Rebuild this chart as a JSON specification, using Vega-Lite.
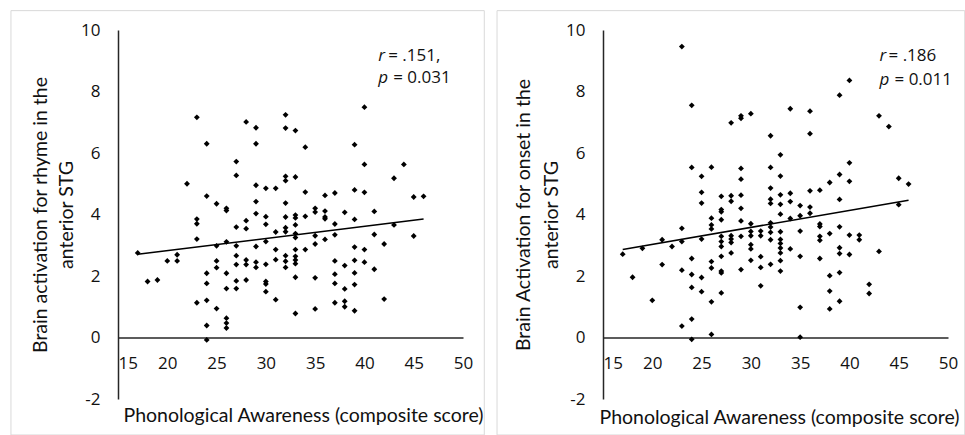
{
  "$schema": "https://vega.github.io/schema/vega-lite/v6.json",
  "padding": {"left": 10, "top": 10, "right": 0, "bottom": 0},
  "background": "white",
  "datasets": {
    "rhyme": [
      {"pa":23,"act":7.16},{"pa":28,"act":7.01},{"pa":29,"act":6.82},{"pa":24,"act":6.30},{"pa":29,"act":6.30},
      {"pa":27,"act":5.72},{"pa":27,"act":5.27},{"pa":22,"act":5.00},{"pa":29,"act":4.95},{"pa":30,"act":4.85},
      {"pa":31,"act":4.85},{"pa":24,"act":4.60},{"pa":25,"act":4.35},{"pa":26,"act":4.20},{"pa":26,"act":4.13},
      {"pa":29,"act":4.42},{"pa":29,"act":4.03},{"pa":23,"act":3.85},{"pa":23,"act":3.70},{"pa":28,"act":3.80},
      {"pa":30,"act":3.93},{"pa":27,"act":3.59},{"pa":28,"act":3.54},{"pa":30,"act":3.68},{"pa":31,"act":3.43},
      {"pa":23,"act":3.20},{"pa":17,"act":2.75},{"pa":25,"act":2.98},{"pa":26,"act":3.11},{"pa":27,"act":2.98},
      {"pa":29,"act":2.96},{"pa":30,"act":3.12},{"pa":31,"act":2.86},{"pa":31,"act":2.53},{"pa":21,"act":2.69},
      {"pa":21,"act":2.49},{"pa":20,"act":2.49},{"pa":25,"act":2.49},{"pa":25,"act":2.27},{"pa":27,"act":2.66},
      {"pa":27,"act":2.37},{"pa":28,"act":2.52},{"pa":28,"act":2.37},{"pa":29,"act":2.45},{"pa":29,"act":2.28},
      {"pa":30,"act":2.38},{"pa":24,"act":2.09},{"pa":26,"act":2.09},{"pa":24,"act":1.76},{"pa":18,"act":1.82},
      {"pa":19,"act":1.87},{"pa":27,"act":1.84},{"pa":27,"act":1.59},{"pa":26,"act":1.59},{"pa":28,"act":1.87},
      {"pa":30,"act":1.82},{"pa":30,"act":1.74},{"pa":30,"act":1.49},{"pa":31,"act":1.23},{"pa":23,"act":1.13},
      {"pa":24,"act":1.21},{"pa":25,"act":0.94},{"pa":26,"act":0.63},{"pa":26,"act":0.47},{"pa":26,"act":0.31},
      {"pa":24,"act":0.39},{"pa":24,"act":-0.08},
      {"pa":32,"act":7.24},{"pa":32,"act":6.81},{"pa":33,"act":6.73},{"pa":34,"act":6.19},{"pa":40,"act":7.49},
      {"pa":39,"act":6.27},{"pa":40,"act":5.63},{"pa":44,"act":5.63},{"pa":43,"act":5.18},{"pa":32,"act":5.24},
      {"pa":32,"act":5.10},{"pa":33,"act":5.22},{"pa":34,"act":4.73},{"pa":36,"act":4.62},{"pa":37,"act":4.70},
      {"pa":39,"act":4.80},{"pa":40,"act":4.72},{"pa":45,"act":4.57},{"pa":46,"act":4.59},{"pa":32,"act":4.37},
      {"pa":35,"act":4.20},{"pa":35,"act":4.08},{"pa":36,"act":4.11},{"pa":36,"act":3.92},{"pa":36,"act":3.86},
      {"pa":38,"act":4.07},{"pa":41,"act":4.10},{"pa":32,"act":3.92},{"pa":33,"act":3.98},{"pa":33,"act":3.89},
      {"pa":34,"act":3.94},{"pa":39,"act":3.84},{"pa":37,"act":3.69},{"pa":33,"act":3.66},{"pa":32,"act":3.57},
      {"pa":32,"act":3.44},{"pa":33,"act":3.38},{"pa":33,"act":3.25},{"pa":35,"act":3.31},{"pa":37,"act":3.34},
      {"pa":36,"act":3.19},{"pa":35,"act":3.04},{"pa":41,"act":3.35},{"pa":43,"act":3.66},{"pa":45,"act":3.30},
      {"pa":42,"act":3.04},{"pa":33,"act":2.86},{"pa":34,"act":2.86},{"pa":39,"act":2.94},{"pa":40,"act":2.86},
      {"pa":32,"act":2.66},{"pa":32,"act":2.48},{"pa":32,"act":2.28},{"pa":33,"act":2.64},{"pa":33,"act":2.52},
      {"pa":33,"act":2.40},{"pa":37,"act":2.49},{"pa":38,"act":2.34},{"pa":39,"act":2.51},{"pa":40,"act":2.45},
      {"pa":41,"act":2.22},{"pa":33,"act":1.96},{"pa":35,"act":1.94},{"pa":37,"act":2.06},{"pa":39,"act":2.10},
      {"pa":37,"act":1.76},{"pa":39,"act":1.72},{"pa":38,"act":1.58},{"pa":42,"act":1.25},{"pa":37,"act":1.13},
      {"pa":38,"act":1.18},{"pa":38,"act":1.00},{"pa":39,"act":0.87},{"pa":35,"act":0.93},{"pa":33,"act":0.78}
    ],
    "onset": [
      {"pa":23,"act":9.46},{"pa":24,"act":7.55},{"pa":28,"act":6.98},{"pa":29,"act":7.21},{"pa":29,"act":7.13},
      {"pa":30,"act":7.28},{"pa":32,"act":6.56},{"pa":24,"act":5.53},{"pa":26,"act":5.54},{"pa":29,"act":5.50},
      {"pa":32,"act":5.53},{"pa":25,"act":5.24},{"pa":29,"act":5.15},{"pa":32,"act":4.86},{"pa":25,"act":4.72},
      {"pa":27,"act":4.59},{"pa":28,"act":4.61},{"pa":28,"act":4.43},{"pa":29,"act":4.63},{"pa":32,"act":4.50},
      {"pa":32,"act":4.36},{"pa":25,"act":4.37},{"pa":27,"act":4.16},{"pa":27,"act":4.09},{"pa":29,"act":4.20},
      {"pa":26,"act":3.88},{"pa":27,"act":3.83},{"pa":26,"act":3.66},{"pa":26,"act":3.53},{"pa":23,"act":3.55},
      {"pa":29,"act":3.79},{"pa":30,"act":3.70},{"pa":32,"act":3.73},{"pa":32,"act":3.59},{"pa":32,"act":3.42},
      {"pa":32,"act":3.18},{"pa":31,"act":3.46},{"pa":31,"act":3.31},{"pa":30,"act":3.45},{"pa":30,"act":3.31},
      {"pa":29,"act":3.29},{"pa":28,"act":3.31},{"pa":28,"act":3.20},{"pa":28,"act":3.09},{"pa":27,"act":3.29},
      {"pa":27,"act":3.12},{"pa":25,"act":3.20},{"pa":23,"act":3.12},{"pa":22,"act":2.96},{"pa":21,"act":3.18},
      {"pa":19,"act":2.90},{"pa":17,"act":2.71},{"pa":30,"act":3.02},{"pa":30,"act":2.88},{"pa":27,"act":2.96},
      {"pa":27,"act":2.64},{"pa":28,"act":2.75},{"pa":31,"act":2.63},{"pa":30,"act":2.51},{"pa":24,"act":2.57},
      {"pa":26,"act":2.47},{"pa":26,"act":2.26},{"pa":21,"act":2.37},{"pa":32,"act":2.38},{"pa":31,"act":2.28},
      {"pa":29,"act":2.21},{"pa":23,"act":2.19},{"pa":27,"act":2.16},{"pa":27,"act":2.10},{"pa":24,"act":2.05},
      {"pa":25,"act":1.95},{"pa":18,"act":1.96},{"pa":31,"act":1.68},{"pa":24,"act":1.63},{"pa":25,"act":1.49},
      {"pa":27,"act":1.45},{"pa":20,"act":1.21},{"pa":26,"act":1.16},{"pa":24,"act":0.60},{"pa":23,"act":0.37},
      {"pa":26,"act":0.10},{"pa":24,"act":-0.06},
      {"pa":33,"act":5.94},{"pa":33,"act":5.25},{"pa":33,"act":4.64},{"pa":33,"act":4.33},{"pa":33,"act":4.01},
      {"pa":33,"act":3.44},{"pa":33,"act":3.19},{"pa":33,"act":3.06},{"pa":33,"act":2.91},{"pa":33,"act":2.75},
      {"pa":33,"act":2.50},{"pa":33,"act":2.16},
      {"pa":34,"act":7.44},{"pa":34,"act":4.69},{"pa":34,"act":4.42},{"pa":34,"act":3.87},{"pa":34,"act":2.88},
      {"pa":35,"act":4.29},{"pa":35,"act":3.96},{"pa":35,"act":3.46},{"pa":35,"act":2.64},{"pa":35,"act":0.98},
      {"pa":35,"act":0.01},
      {"pa":36,"act":7.36},{"pa":36,"act":6.63},{"pa":36,"act":4.77},{"pa":36,"act":4.24},{"pa":36,"act":4.04},
      {"pa":37,"act":4.79},{"pa":37,"act":3.69},{"pa":37,"act":3.61},{"pa":37,"act":3.29},{"pa":37,"act":3.16},
      {"pa":37,"act":2.57},
      {"pa":38,"act":5.04},{"pa":38,"act":3.38},{"pa":38,"act":2.01},{"pa":38,"act":1.51},{"pa":38,"act":0.93},
      {"pa":39,"act":7.88},{"pa":39,"act":5.30},{"pa":39,"act":4.49},{"pa":39,"act":3.60},{"pa":39,"act":2.92},
      {"pa":39,"act":2.73},{"pa":39,"act":2.11},{"pa":39,"act":1.18},
      {"pa":40,"act":8.36},{"pa":40,"act":5.68},{"pa":40,"act":5.08},{"pa":40,"act":3.33},{"pa":40,"act":2.70},
      {"pa":41,"act":3.33},{"pa":41,"act":3.18},{"pa":42,"act":1.73},{"pa":42,"act":1.43},
      {"pa":43,"act":7.21},{"pa":43,"act":2.80},{"pa":44,"act":6.86},
      {"pa":45,"act":5.18},{"pa":45,"act":4.32},{"pa":46,"act":4.99}
    ]
  },
  "config": {
    "view": {"stroke": null},
    "font": "Lato",
    "axis": {
      "grid": false,
      "ticks": false,
      "domainColor": "#262626",
      "domainWidth": 1.5,
      "labelColor": "#111111",
      "titleColor": "#111111",
      "labelFontSize": 17,
      "titleFontSize": 19.5,
      "titleFontWeight": "normal",
      "labelFont": "Open Sans",
      "titleFont": "Lato"
    },
    "text": {"font": "Open Sans", "fontSize": 17, "color": "#111111"}
  },
  "spacing": 140,
  "bounds": "flush",
  "hconcat": [
    {
      "width": 345,
      "height": 369,
      "layer": [
        {
          "data": {"name": "rhyme"},
          "mark": {"type": "point", "shape": "diamond", "filled": true, "size": 34, "color": "#000000", "opacity": 1},
          "encoding": {
            "x": {
              "field": "pa", "type": "quantitative",
              "scale": {"domain": [15, 50], "nice": false, "zero": false},
              "axis": {
                "title": "Phonological Awareness (composite score)",
                "values": [15, 20, 25, 30, 35, 40, 45, 50],
                "offset": -61.5,
                "labelPadding": 18,
                "labelFlush": false,
                "labelAlign": {"condition": {"test": "datum.value == 15", "value": "left"}, "value": "center"},
                "titleX": 185,
                "titleY": 69
              }
            },
            "y": {
              "field": "act", "type": "quantitative",
              "scale": {"domain": [-2, 10], "nice": false, "zero": false},
              "axis": {
                "title": ["Brain activation for rhyme in the", "anterior STG"],
                "values": [-2, 0, 2, 4, 6, 8, 10],
                "labelExpr": "'' + datum.value",
                "labelPadding": 18,
                "titleLineHeight": 26
              }
            }
          }
        },
        {
          "data": {"name": "rhyme"},
          "transform": [{"regression": "act", "on": "pa", "extent": [17, 46]}],
          "mark": {"type": "line", "color": "#000000", "strokeWidth": 1.6},
          "encoding": {
            "x": {"field": "pa", "type": "quantitative"},
            "y": {"field": "act", "type": "quantitative"}
          }
        },
        {
          "data": {"values": [{}]},
          "mark": {"type": "rect", "fill": null, "stroke": "#d9d9d9", "strokeWidth": 1},
          "encoding": {
            "x": {"datum": 4.14, "type": "quantitative"},
            "x2": {"datum": 52.16},
            "y": {"datum": 10.63, "type": "quantitative"},
            "y2": {"datum": -3.17}
          }
        },
        {
          "data": {"values": [{}]},
          "mark": {"type": "text", "align": "left", "baseline": "middle", "fontStyle": "italic"},
          "encoding": {"x": {"datum": 41.4, "type": "quantitative"}, "y": {"datum": 9.17, "type": "quantitative"}, "text": {"value": "r"}}
        },
        {
          "data": {"values": [{}]},
          "mark": {"type": "text", "align": "left", "baseline": "middle", "dx": 10},
          "encoding": {"x": {"datum": 41.4, "type": "quantitative"}, "y": {"datum": 9.17, "type": "quantitative"}, "text": {"value": "= .151,"}}
        },
        {
          "data": {"values": [{}]},
          "mark": {"type": "text", "align": "left", "baseline": "middle", "fontStyle": "italic"},
          "encoding": {"x": {"datum": 41.4, "type": "quantitative"}, "y": {"datum": 8.45, "type": "quantitative"}, "text": {"value": "p"}}
        },
        {
          "data": {"values": [{}]},
          "mark": {"type": "text", "align": "left", "baseline": "middle", "dx": 15},
          "encoding": {"x": {"datum": 41.4, "type": "quantitative"}, "y": {"datum": 8.45, "type": "quantitative"}, "text": {"value": "= 0.031"}}
        }
      ]
    },
    {
      "width": 345,
      "height": 369,
      "layer": [
        {
          "data": {"name": "onset"},
          "mark": {"type": "point", "shape": "diamond", "filled": true, "size": 34, "color": "#000000", "opacity": 1},
          "encoding": {
            "x": {
              "field": "pa", "type": "quantitative",
              "scale": {"domain": [15, 50], "nice": false, "zero": false},
              "axis": {
                "title": "Phonological Awareness (composite score)",
                "values": [15, 20, 25, 30, 35, 40, 45, 50],
                "offset": -61.5,
                "labelPadding": 18,
                "labelFlush": false,
                "labelAlign": {"condition": {"test": "datum.value == 15", "value": "left"}, "value": "center"},
                "titleX": 176,
                "titleY": 71
              }
            },
            "y": {
              "field": "act", "type": "quantitative",
              "scale": {"domain": [-2, 10], "nice": false, "zero": false},
              "axis": {
                "title": ["Brain Activation for onset in the", "anterior STG"],
                "values": [-2, 0, 2, 4, 6, 8, 10],
                "labelExpr": "'' + datum.value",
                "labelPadding": 18,
                "titleLineHeight": 28
              }
            }
          }
        },
        {
          "data": {"name": "onset"},
          "transform": [{"regression": "act", "on": "pa", "extent": [17, 46]}],
          "mark": {"type": "line", "color": "#000000", "strokeWidth": 1.6},
          "encoding": {
            "x": {"field": "pa", "type": "quantitative"},
            "y": {"field": "act", "type": "quantitative"}
          }
        },
        {
          "data": {"values": [{}]},
          "mark": {"type": "rect", "fill": null, "stroke": "#d9d9d9", "strokeWidth": 1},
          "encoding": {
            "x": {"datum": 4.25, "type": "quantitative"},
            "x2": {"datum": 51.7},
            "y": {"datum": 10.63, "type": "quantitative"},
            "y2": {"datum": -3.17}
          }
        },
        {
          "data": {"values": [{}]},
          "mark": {"type": "text", "align": "left", "baseline": "middle", "fontStyle": "italic"},
          "encoding": {"x": {"datum": 43.05, "type": "quantitative"}, "y": {"datum": 9.17, "type": "quantitative"}, "text": {"value": "r"}}
        },
        {
          "data": {"values": [{}]},
          "mark": {"type": "text", "align": "left", "baseline": "middle", "dx": 9},
          "encoding": {"x": {"datum": 43.05, "type": "quantitative"}, "y": {"datum": 9.17, "type": "quantitative"}, "text": {"value": "= .186"}}
        },
        {
          "data": {"values": [{}]},
          "mark": {"type": "text", "align": "left", "baseline": "middle", "fontStyle": "italic"},
          "encoding": {"x": {"datum": 43.05, "type": "quantitative"}, "y": {"datum": 8.39, "type": "quantitative"}, "text": {"value": "p"}}
        },
        {
          "data": {"values": [{}]},
          "mark": {"type": "text", "align": "left", "baseline": "middle", "dx": 15},
          "encoding": {"x": {"datum": 43.05, "type": "quantitative"}, "y": {"datum": 8.39, "type": "quantitative"}, "text": {"value": "= 0.011"}}
        }
      ]
    }
  ]
}
